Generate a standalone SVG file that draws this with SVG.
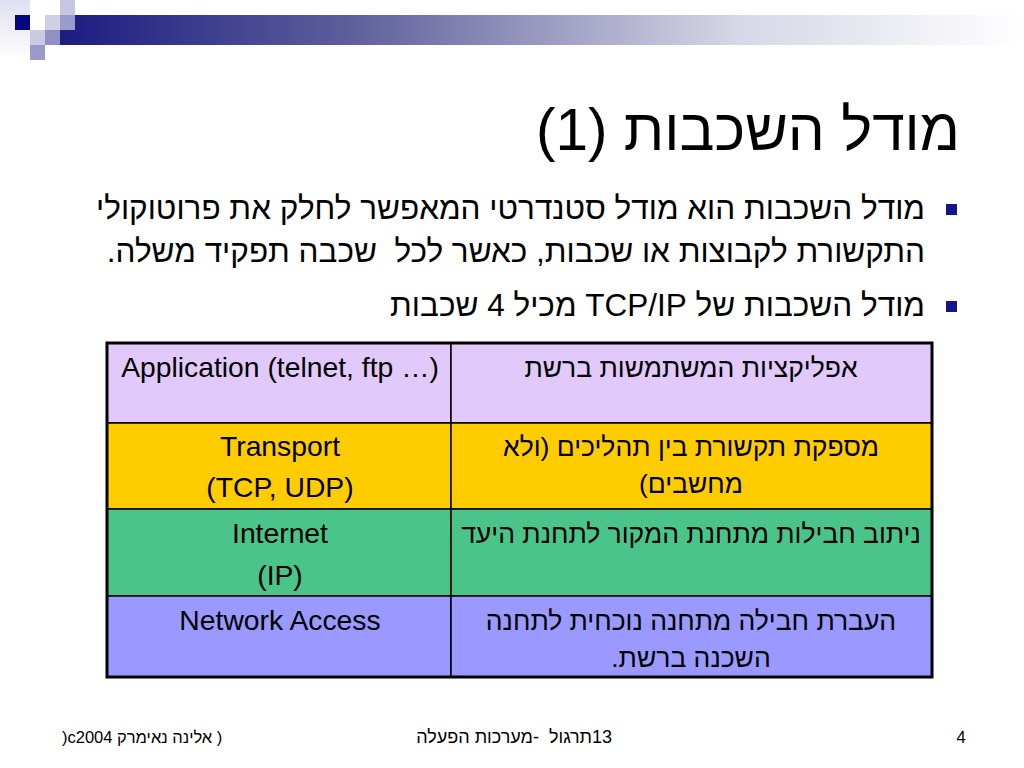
<svg xmlns="http://www.w3.org/2000/svg" width="1024" height="768" viewBox="0 0 1024 768">
<defs>
<linearGradient id="bar" x1="0" y1="0" x2="1" y2="0">
<stop offset="0" stop-color="#1c1c82"/>
<stop offset="0.3" stop-color="#5e5e9c"/>
<stop offset="0.7" stop-color="#d6d6e6"/>
<stop offset="1" stop-color="#ffffff"/>
</linearGradient>
<linearGradient id="fade" x1="0" y1="0" x2="0" y2="1">
<stop offset="0" stop-color="#d8d8ec"/>
<stop offset="1" stop-color="#ffffff"/>
</linearGradient>
<style>
text{font-family:"Liberation Sans",Arial,"DejaVu Sans",sans-serif;fill:#000}
.title{font-size:58.5px}
.bul{font-size:31.5px}
.cell{font-size:28.3px}
.cellhe{font-size:26.5px}
.foot{font-size:16.5px}
.foothe{font-size:18px}
.he{direction:rtl}
.pre{white-space:pre}
.cellbox{stroke:#000;stroke-width:1.5}
</style>
</defs>
<rect width="1024" height="768" fill="#fff"/>
<g id="decoration">
<rect x="0" y="0" width="30" height="60" fill="url(#fade)" opacity="0.8"/>
<rect x="60" y="15" width="964" height="30" fill="url(#bar)"/>
<rect x="15" y="15" width="15" height="15" fill="#06067e"/>
<rect x="60" y="0" width="15" height="15" fill="#c6c6e0"/>
<rect x="45" y="15" width="15" height="15" fill="#cfcfe6"/>
<rect x="60" y="15" width="15" height="15" fill="#9a9acc"/>
<rect x="30" y="30" width="15" height="15" fill="#cacae3"/>
<rect x="45" y="30" width="15" height="15" fill="#9090c4"/>
<rect x="30" y="45" width="15" height="15" fill="#9a9acc"/>
</g>
<g id="title">
<text class="title he" x="960" y="150" text-anchor="start">מודל השכבות (1)</text>
</g>
<g id="bullets">
<rect x="946" y="204" width="11" height="11" fill="#14148c"/>
<text class="bul he" x="925" y="219" text-anchor="start">מודל השכבות הוא מודל סטנדרטי המאפשר לחלק את פרוטוקולי</text>
<text class="bul he pre" x="925" y="262" text-anchor="start">התקשורת לקבוצות או שכבות, כאשר לכל  שכבה תפקיד משלה.</text>
<rect x="946" y="301" width="11" height="11" fill="#14148c"/>
<text class="bul he" x="925" y="316" text-anchor="start">מודל השכבות של TCP/IP מכיל 4 שכבות</text>
</g>
<g id="table">
<g id="row-application">
<rect class="cellbox" x="107" y="343" width="344" height="80" fill="#e1c9fb"/>
<rect class="cellbox" x="451" y="343" width="481" height="80" fill="#e1c9fb"/>
<text class="cell" x="280" y="377" text-anchor="middle">Application (telnet, ftp …)</text>
<text class="cellhe he" x="691" y="377" text-anchor="middle">אפליקציות המשתמשות ברשת</text>
</g>
<g id="row-transport">
<rect class="cellbox" x="107" y="423" width="344" height="86" fill="#ffcc00"/>
<rect class="cellbox" x="451" y="423" width="481" height="86" fill="#ffcc00"/>
<text class="cell" x="280" y="456" text-anchor="middle">Transport</text>
<text class="cell" x="280" y="497" text-anchor="middle">(TCP, UDP)</text>
<text class="cellhe he" x="691" y="456" text-anchor="middle">מספקת תקשורת בין תהליכים (ולא</text>
<text class="cellhe he" x="691" y="493" text-anchor="middle">מחשבים)</text>
</g>
<g id="row-internet">
<rect class="cellbox" x="107" y="509" width="344" height="87" fill="#4bc48a"/>
<rect class="cellbox" x="451" y="509" width="481" height="87" fill="#4bc48a"/>
<text class="cell" x="280" y="543" text-anchor="middle">Internet</text>
<text class="cell" x="280" y="585" text-anchor="middle">(IP)</text>
<text class="cellhe he" x="691" y="543" text-anchor="middle">ניתוב חבילות מתחנת המקור לתחנת היעד</text>
</g>
<g id="row-network">
<rect class="cellbox" x="107" y="596" width="344" height="81" fill="#9999ff"/>
<rect class="cellbox" x="451" y="596" width="481" height="81" fill="#9999ff"/>
<text class="cell" x="280" y="630" text-anchor="middle">Network Access</text>
<text class="cellhe he" x="691" y="630" text-anchor="middle">העברת חבילה מתחנה נוכחית לתחנה</text>
<text class="cellhe he" x="691" y="667" text-anchor="middle">השכנה ברשת.</text>
</g>
<rect x="107" y="343" width="825" height="334" fill="none" stroke="#000" stroke-width="3"/>
</g>
<g id="footer">
<text class="foot" x="62" y="743">)c2004 אלינה נאימרק )</text>
<text class="foothe he pre" x="612" y="743" text-anchor="start">13תרגול  -מערכות הפעלה</text>
<text class="foot" x="961" y="743" text-anchor="middle">4</text>
</g>
</svg>
